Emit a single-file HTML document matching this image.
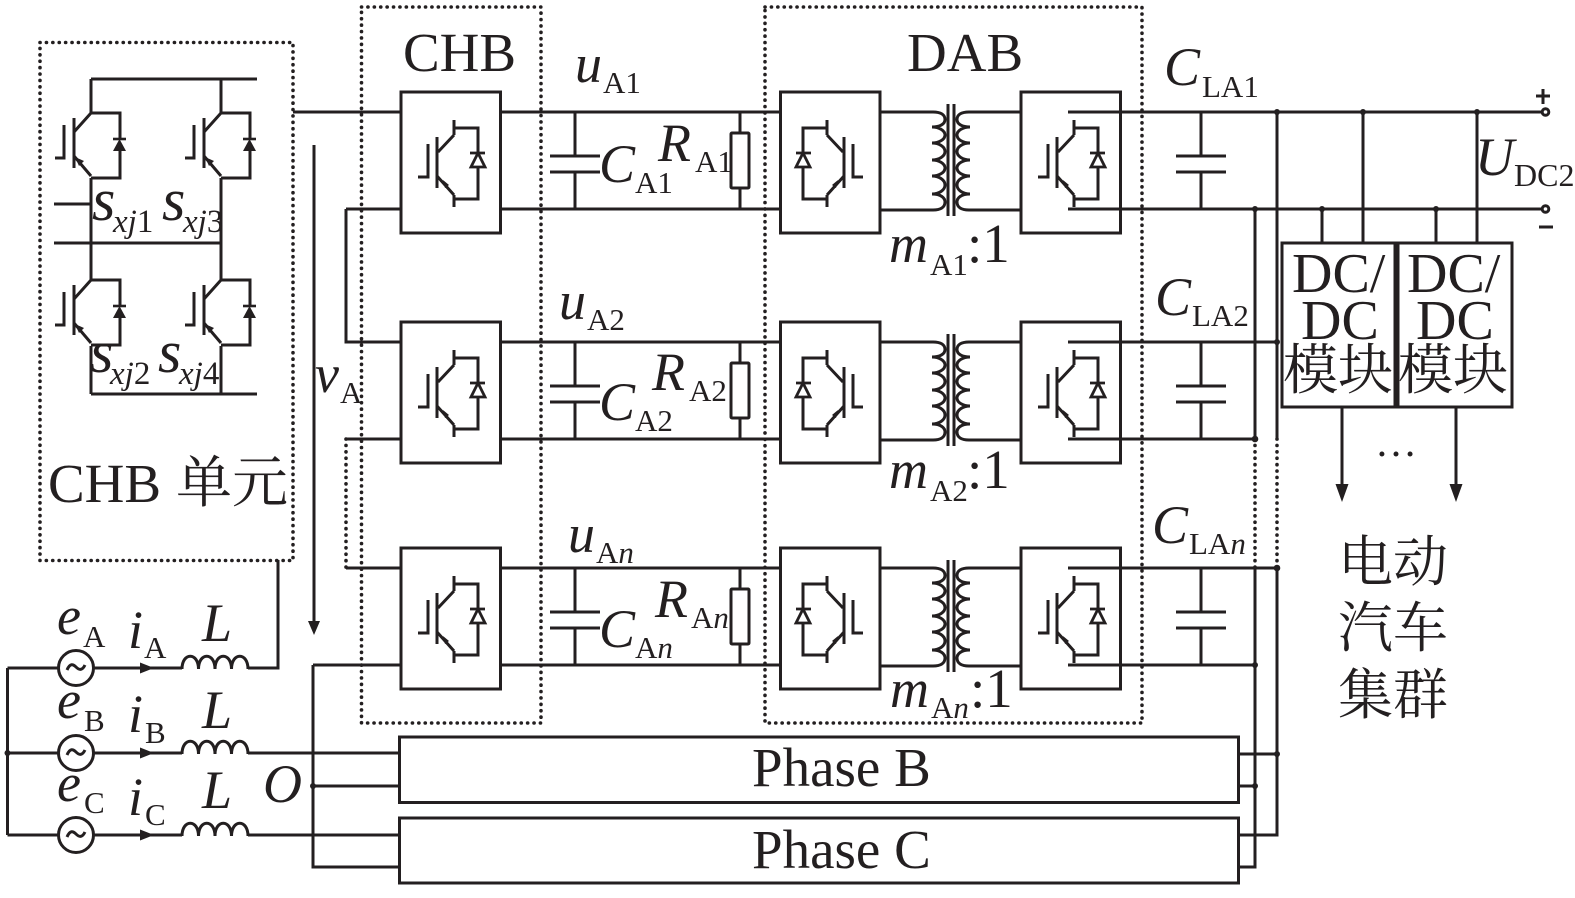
<!DOCTYPE html>
<html><head><meta charset="utf-8"><style>
html,body{margin:0;padding:0;background:#fff}
svg{display:block}
text{font-family:"Liberation Serif","Noto Serif CJK SC",serif;fill:#231f20}
.b{font-size:55px}.v{font-size:54px;font-style:italic}.s{font-size:31px}.i{font-style:italic}
.z{font-size:33px}.ss{font-size:60px}
</style></head><body>
<svg width="1575" height="898" viewBox="0 0 1575 898" xmlns="http://www.w3.org/2000/svg">
<defs>
<g id="cell" fill="none" stroke="#231f20" stroke-width="3">
<path d="M91 113H120V139M120 151V178H91M91 113L74 132M74 118V168M64 125V158H55M74 156L91 176"/>
<path d="M113 139H126" stroke-width="2.6"/>
<path d="M119.500 139L113 151H126Z" fill="#231f20" stroke="none"/>
<path d="M75 157L84 161L79 166Z" fill="#231f20" stroke="none"/>
</g>
<g id="mod" fill="none" stroke="#231f20" stroke-width="3">
<rect x="401" y="92" width="99.500" height="141"/>
<path d="M454 120V135M454 195V207M454 128H478V153M478 167V199H454M437 137V188M428 144V177H418M438 152L454 135M437 176L454 195"/>
<path d="M470 153H485M478 153L471 167H485Z" stroke-width="2.800"/>
<path d="M443 180L449 185L445 188Z" fill="#231f20" stroke="none"/>
</g>
<g id="xf" fill="none" stroke="#231f20" stroke-width="3">
<path d="M880 112H933C941 112 945 115 945 119.500C945 124 940 127 932 127A13 8 0 0 1 932 143A13 8.500 0 0 1 932 160A13 8 0 0 1 932 176A13 9 0 0 1 932 194C941 194 945 198 945 202C945 207 941 210 933 210H880"/>
<path d="M1021 112H969C961 112 957 115 957 119.500C957 124 962 127 970 127A13 8 0 0 0 970 143A13 8.500 0 0 0 970 160A13 8 0 0 0 970 176A13 9 0 0 0 970 194C961 194 957 198 957 202C957 207 961 210 969 210H1021"/>
<path d="M948 104V216M954 104V216"/>
</g>
<g id="cap" fill="none" stroke="#231f20" stroke-width="3">
<path d="M0 112V156M0 172V209M-25 156H25M-25 172H25"/>
</g>
<g id="rowL" fill="none" stroke="#231f20" stroke-width="3">
<path d="M500 112H781M500 209H781M740 112V133M740 188V209"/>
<rect x="731" y="133" width="18" height="55" rx="1"/>
</g>
<g id="src" fill="none" stroke="#231f20" stroke-width="3">
<circle cx="76" cy="0" r="17.500" fill="#fff"/>
<path d="M67 2C70 -5 73 -4 76 -1C79 2 82 3 85 -3"/>
<path d="M93.500 0H182"/>
<path d="M140 -5.500L154 0L140 5.500Z" fill="#231f20" stroke="none"/>
<path d="M182 1C182 -16 198.500 -16 198.500 1C198.500 -16 215 -16 215 1C215 -16 231.500 -16 231.500 1C231.500 -16 248 -16 248 1"/>
</g>
</defs>

<g fill="none" stroke="#231f20" stroke-width="3.600" stroke-dasharray="0.1 6.300" stroke-linecap="round">
<rect x="40" y="42.500" width="253" height="518"/>
<rect x="361.500" y="7" width="179.500" height="716"/>
<rect x="765" y="7" width="377" height="716"/>
<path d="M346 439V568M1255 439V568M1277 439V568"/>
</g>

<g fill="none" stroke="#231f20" stroke-width="3">
<path d="M91 79H257M91 394H257M54 243H221M54 204H91M91 79V113M91 178V280M91 346V394M221 79V113M221 178V280M221 346V394"/>
<path d="M293 112H401M346 209H401M346 209V342H401M346 439H401M346 568H401M314 145V624"/>
<path d="M278 560V668H248"/>
<path d="M7.500 668V835M7.500 668H58.500M7.500 753H58.500M7.500 835H58.500"/>
<path d="M248 753H399M248 835H399M313 665H401M313 665V867H399M313 786H399"/>
<path d="M1068 112H1542M1068 209H1542M1068 342H1277M1068 439H1255M1068 568H1277M1068 665H1255"/>
<path d="M1255 209V439M1255 568V867H1239M1277 112V439M1277 568V835H1239M1239 754H1277M1239 786H1255"/>
<path d="M1322 209V243M1363 112V243M1436 209V243M1477 112V243M1342 407V486M1456 407V486"/>
<rect x="399.500" y="737" width="839" height="65.500"/>
<rect x="399.500" y="818" width="839" height="65"/>
<rect x="1282" y="243" width="113" height="164"/>
<rect x="1398" y="243" width="114" height="164"/>
<circle cx="1545.500" cy="112" r="3.300"/><circle cx="1545.500" cy="209" r="3.300"/>
<path d="M1536 96H1550M1543 89V104M1539 227H1553"/>
</g>
<path d="M308 621H320L314 635ZM1335.500 484H1348.500L1342 502ZM1449.500 484H1462.500L1456 502Z" fill="#231f20"/>
<g fill="#231f20">
<circle cx="1277" cy="112" r="3"/><circle cx="1363" cy="112" r="3"/><circle cx="1477" cy="112" r="3"/>
<circle cx="1255" cy="209" r="3"/><circle cx="1322" cy="209" r="3"/><circle cx="1436" cy="209" r="3"/>
<circle cx="1277" cy="342" r="3"/><circle cx="1255" cy="439" r="3.300"/>
<circle cx="1277" cy="568" r="3.300"/><circle cx="1255" cy="665" r="3"/>
<circle cx="1277" cy="754" r="3"/><circle cx="1255" cy="786" r="3"/>
<circle cx="7.500" cy="753" r="3"/><circle cx="313" cy="786" r="3"/>
</g>

<use href="#cell"/><use href="#cell" x="130"/><use href="#cell" y="167"/><use href="#cell" x="130" y="167"/>

<g id="r1">
<use href="#mod"/><use href="#mod" transform="translate(1281,0) scale(-1,1)"/><use href="#mod" x="620"/>
<use href="#xf"/><use href="#rowL"/><use href="#cap" x="575"/><use href="#cap" x="1201"/>
</g>
<use href="#r1" y="230"/>
<use href="#r1" y="456"/>

<use href="#src" y="668"/><use href="#src" y="753"/><use href="#src" y="835"/>

<text class="b" x="403" y="71">CHB</text>
<text class="b" x="907" y="71">DAB</text>
<text class="b" x="48" y="502">CHB</text><text class="b" x="176" y="502" style="font-size:56px">单元</text>
<text class="b" x="752" y="786">Phase B</text>
<text class="b" x="752" y="868">Phase C</text>

<text class="v" x="575" y="82">u</text><text class="s" x="603" y="93">A1</text>
<text class="v" x="559" y="319">u</text><text class="s" x="587" y="330">A2</text>
<text class="v" x="568" y="552">u</text><text class="s" x="596" y="563">A<tspan class="i">n</tspan></text>

<text class="v" x="599" y="182">C</text><text class="s" x="635" y="193">A1</text>
<text class="v" x="599" y="420">C</text><text class="s" x="635" y="431">A2</text>
<text class="v" x="599" y="647">C</text><text class="s" x="635" y="658">A<tspan class="i">n</tspan></text>

<text class="v" x="658" y="161">R</text><text class="s" x="695" y="172">A1</text>
<text class="v" x="652" y="390">R</text><text class="s" x="689" y="401">A2</text>
<text class="v" x="655" y="617">R</text><text class="s" x="691" y="628">A<tspan class="i">n</tspan></text>

<text class="v" x="889" y="262">m</text><text class="s" x="930" y="275">A1</text><text class="b" x="967" y="262">:1</text>
<text class="v" x="889" y="488">m</text><text class="s" x="930" y="501">A2</text><text class="b" x="967" y="488">:1</text>
<text class="v" x="890" y="707">m</text><text class="s" x="931" y="718">A<tspan class="i">n</tspan></text><text class="b" x="970" y="707">:1</text>

<text class="v" x="1164" y="85">C</text><text class="s" x="1202" y="97">LA1</text>
<text class="v" x="1155" y="315">C</text><text class="s" x="1192" y="326">LA2</text>
<text class="v" x="1152" y="543">C</text><text class="s" x="1189" y="554">LA<tspan class="i">n</tspan></text>

<text class="v" x="1475" y="175">U</text><text class="s" x="1514" y="186" style="font-size:32px">DC2</text>

<text class="v ss" x="92" y="220">s</text><text class="z i" x="113" y="232">xj<tspan style="font-style:normal">1</tspan></text>
<text class="v ss" x="162" y="220">s</text><text class="z i" x="183" y="232">xj<tspan style="font-style:normal">3</tspan></text>
<text class="v ss" x="90" y="372">s</text><text class="z i" x="110" y="384">xj<tspan style="font-style:normal">2</tspan></text>
<text class="v ss" x="158" y="372">s</text><text class="z i" x="179" y="384">xj<tspan style="font-style:normal">4</tspan></text>

<text class="v" x="315" y="392">v</text><text class="s" x="340" y="403">A</text>

<text class="v" x="57" y="634">e</text><text class="s" x="83" y="647">A</text>
<text class="v" x="57" y="718">e</text><text class="s" x="84" y="731">B</text>
<text class="v" x="57" y="801">e</text><text class="s" x="84" y="813">C</text>
<text class="v" x="128" y="648">i</text><text class="s" x="144" y="658">A</text>
<text class="v" x="128" y="732">i</text><text class="s" x="145" y="743">B</text>
<text class="v" x="128" y="815">i</text><text class="s" x="145" y="825">C</text>
<text class="v" x="202" y="641">L</text>
<text class="v" x="202" y="728">L</text>
<text class="v" x="202" y="808">L</text>
<text class="v" x="263" y="802">O</text>

<text class="b" x="1292" y="292" style="font-size:56px">DC/</text><text class="b" x="1301" y="339" style="font-size:56px">DC</text><text class="b" x="1283" y="389">模块</text>
<text class="b" x="1407" y="292" style="font-size:56px">DC/</text><text class="b" x="1416" y="339" style="font-size:56px">DC</text><text class="b" x="1398" y="389">模块</text>

<text x="1375" y="456" style="font-size:42px">…</text>
<text class="b" x="1338" y="581">电动</text>
<text class="b" x="1338" y="647">汽车</text>
<text class="b" x="1338" y="714">集群</text>
</svg>
</body></html>
